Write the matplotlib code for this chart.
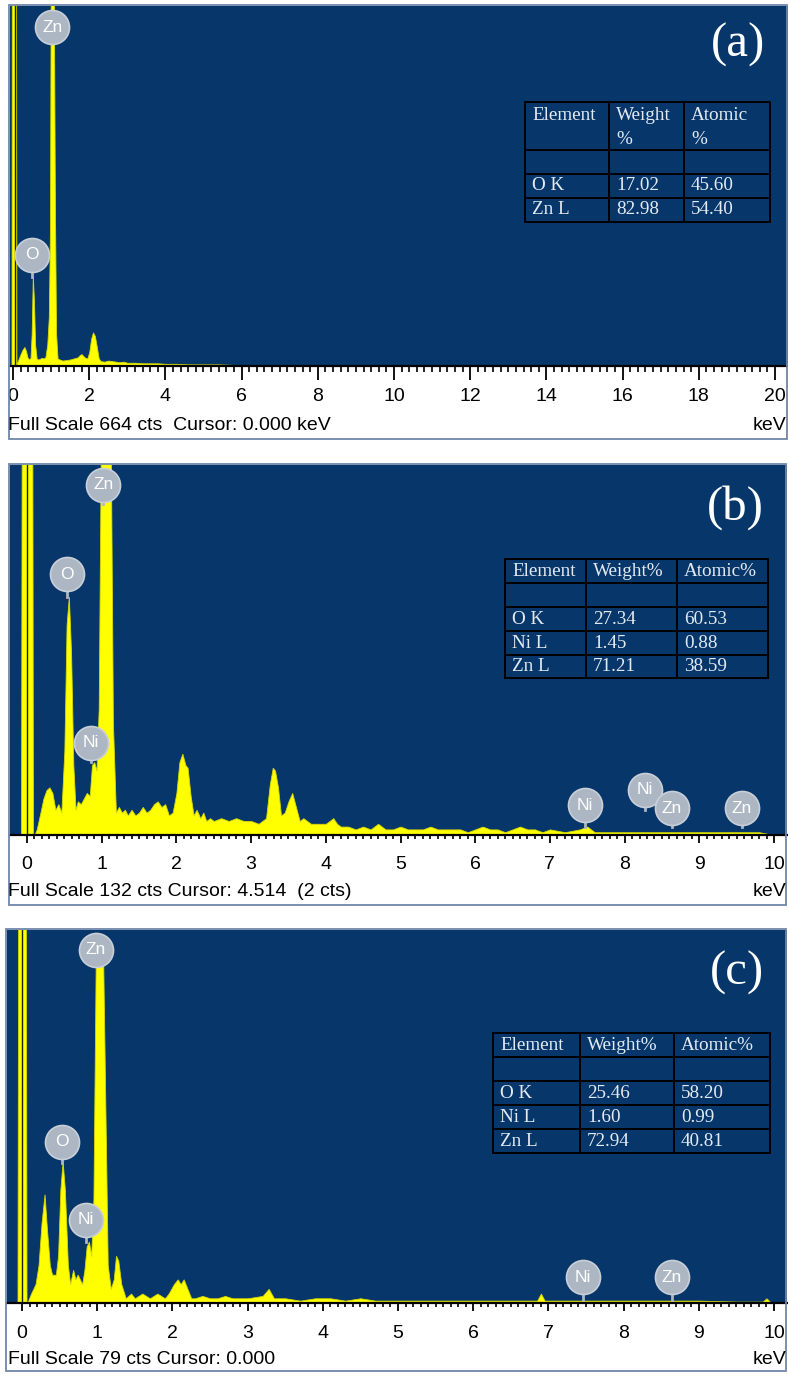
import numpy as np
import matplotlib as mpl
mpl.use('Agg')
from matplotlib import pyplot as plt
from matplotlib.patches import Rectangle

plt.rcParams['font.family'] = ['Liberation Sans', 'DejaVu Sans']

# ---------------- spectra (keV, counts) ----------------
a_kev = [-0.04, -0.03, 0.08, 0.09, 0.12, 0.16, 0.2, 0.25, 0.3, 0.34, 0.38, 0.42, 0.46, 0.49,
         0.52, 0.55, 0.58, 0.62, 0.66, 0.7, 0.75, 0.8, 0.85, 0.9, 0.94, 0.97, 0.99, 1.02,
         1.07, 1.1, 1.13, 1.17, 1.22, 1.3, 1.4, 1.5, 1.6, 1.7, 1.75, 1.8, 1.85, 1.9, 1.95,
         2.0, 2.05, 2.1, 2.15, 2.2, 2.25, 2.3, 2.4, 2.5, 2.6, 2.7, 2.8, 2.9, 3.0, 3.2, 3.4,
         3.6, 3.8, 4.0, 4.3, 4.6, 5.0, 5.4, 5.8, 6.2, 6.6, 7.0, 7.4, 7.8, 8.2, 8.4, 8.45]
a_cts = [0, 800, 800, 0, 8, 15, 22, 30, 35, 28, 16, 12, 15, 60,
         166, 120, 40, 14, 12, 13, 15, 14, 16, 40, 90, 250, 700, 700,
         700, 300, 60, 14, 12, 10, 11, 12, 14, 16, 20, 22, 18, 15, 14,
         25, 50, 62, 55, 35, 14, 9, 8, 10, 9, 8, 7, 8, 6, 6, 5,
         5, 5, 4, 4, 3, 3, 3, 2, 2, 2, 2, 1, 1, 1, 1, 0]

b_kev = [-0.08, -0.07, 0.07, 0.08, 0.1, 0.13, 0.18, 0.22, 0.26, 0.3, 0.34, 0.38, 0.42, 0.46,
         0.5, 0.53, 0.56, 0.59, 0.62, 0.65, 0.68, 0.72, 0.76, 0.8, 0.84, 0.87, 0.9, 0.93,
         0.96, 0.99, 1.12, 1.15, 1.19, 1.23, 1.27, 1.31, 1.35, 1.4, 1.45, 1.5, 1.55, 1.6,
         1.65, 1.7, 1.75, 1.8, 1.85, 1.9, 1.95, 2.0, 2.04, 2.08, 2.12, 2.15, 2.19, 2.23,
         2.27, 2.32, 2.36, 2.4, 2.45, 2.5, 2.6, 2.7, 2.8, 2.9, 3.0, 3.1, 3.2, 3.25, 3.29,
         3.32, 3.36, 3.4, 3.45, 3.5, 3.55, 3.6, 3.65, 3.7, 3.8, 3.9, 4.0, 4.1, 4.15, 4.2,
         4.3, 4.4, 4.5, 4.6, 4.7, 4.75, 4.8, 4.9, 5.0, 5.1, 5.2, 5.3, 5.4, 5.5, 5.6, 5.7,
         5.8, 5.9, 6.0, 6.1, 6.2, 6.3, 6.4, 6.5, 6.6, 6.7, 6.8, 6.9, 7.0, 7.2, 7.4, 7.5,
         7.6, 7.8, 8.0, 8.2, 8.4, 8.6, 8.8, 9.0, 9.2, 9.4, 9.6, 9.8, 10.0]
b_cts = [0, 160, 160, 0, 0, 2, 8, 13, 16, 17, 15, 9, 11, 8,
         30, 75, 85, 65, 25, 9, 12, 11, 13, 15, 14, 25, 26, 23,
         45, 145, 145, 40, 8, 10, 8, 9, 7, 9, 7, 8, 10, 8,
         9, 11, 12, 10, 11, 7, 8, 15, 26, 29, 25, 24, 14, 7,
         9, 6, 8, 5, 6, 5, 6, 5, 6, 5, 5, 4, 6, 18, 24,
         23, 17, 7, 8, 12, 15, 10, 5, 6, 4, 4, 4, 6, 4, 3,
         3, 2, 3, 2, 4, 3, 2, 2, 3, 2, 2, 2, 3, 2, 2, 2,
         2, 1, 2, 3, 2, 2, 1, 2, 3, 2, 2, 1, 2, 1, 2, 3,
         1, 1, 1, 1, 1, 1, 1, 1, 1, 1, 1, 1, 0]

c_kev = [-0.06, -0.05, 0.05, 0.06, 0.07, 0.12, 0.18, 0.22, 0.26, 0.3, 0.33, 0.37, 0.4, 0.45,
         0.48, 0.51, 0.54, 0.57, 0.61, 0.64, 0.68, 0.71, 0.74, 0.77, 0.8, 0.83, 0.86, 0.89,
         0.92, 0.95, 0.98, 1.08, 1.11, 1.14, 1.18, 1.22, 1.25, 1.28, 1.32, 1.38, 1.45, 1.5,
         1.6, 1.7, 1.8, 1.9, 1.95, 2.02, 2.07, 2.11, 2.15, 2.2, 2.25, 2.3, 2.4, 2.5, 2.6,
         2.7, 2.8, 3.0, 3.2, 3.28, 3.35, 3.5, 3.7, 3.9, 4.1, 4.3, 4.5, 4.7, 5.0, 5.5, 6.0,
         6.5, 6.85, 6.9, 6.95, 7.5, 8.0, 8.5, 9.0, 9.5, 9.85, 9.9, 9.95, 10.0]
c_cts = [0, 95, 95, 0, 0, 2, 4, 8, 17, 23, 16, 8, 6, 6,
         10, 24, 30, 24, 8, 4, 7, 5, 6, 5, 4, 7, 12, 13,
         10, 22, 72, 72, 40, 8, 3, 5, 10, 9, 4, 1, 2, 1,
         2, 1, 2, 1, 2, 4, 5, 4, 5, 3, 1, 1, 1.5, 1, 1,
         1.5, 1, 1, 1.5, 3, 1, 1, 0.5, 1, 1, 0.5, 1, 0.5, 0.5, 0.5, 0.5,
         0.5, 0.5, 2, 0.5, 0.5, 0.5, 0.5, 0.5, 0.3, 0.3, 1, 0.2, 0]

a_full, b_full, c_full = 664, 132, 79

# peak markers: element, keV, badge centre (cts), end of stem (cts)
a_lab = ['Zn', 'O']
a_lab_kev = [1.03, 0.5]
a_lab_y = [625, 205]
a_lab_tip = [600, 164]

b_lab = ['Zn', 'O', 'Ni', 'Ni', 'Ni', 'Zn', 'Zn']
b_lab_kev = [1.02, 0.54, 0.86, 7.47, 8.27, 8.63, 9.57]
b_lab_y = [125, 93, 33, 10.7, 16.1, 9.6, 9.6]
b_lab_tip = [118, 85, 26, 3, 9, 3, 3]

c_lab = ['Zn', 'O', 'Ni', 'Ni', 'Zn']
c_lab_kev = [0.98, 0.53, 0.85, 7.46, 8.64]
c_lab_y = [74.8, 34.1, 17.6, 5.5, 5.5]
c_lab_tip = [72, 29.6, 12.9, 0.6, 0.6]

# quantification tables
a_elem = ['O K', 'Zn L']
a_weight = ['17.02', '82.98']
a_atomic = ['45.60', '54.40']
b_elem = ['O K', 'Ni L', 'Zn L']
b_weight = ['27.34', '1.45', '71.21']
b_atomic = ['60.53', '0.88', '38.59']
c_elem = ['O K', 'Ni L', 'Zn L']
c_weight = ['25.46', '1.60', '72.94']
c_atomic = ['58.20', '0.99', '40.81']

a_status = 'Full Scale 664 cts  Cursor: 0.000 keV'
b_status = 'Full Scale 132 cts Cursor: 4.514  (2 cts)'
c_status = 'Full Scale 79 cts Cursor: 0.000'

W, H = 788, 1376
BLUE = '#06366a'
YEL = '#ffff00'
BADGE = '#adb6c3'
TXT = '#e4eaf1'

fig = plt.figure(figsize=(W / 100, H / 100), dpi=100)
fig.patch.set_facecolor('white')


def panel(box, x0, ppk, kev, cts, full, xmax, major, minor, tlen, pad,
          labs, lkev, ly, ltip, zp):
    l, t, r, b = box
    ax = fig.add_axes([l / W, 1 - b / H, (r - l) / W, (b - t) / H])
    ax.set_facecolor(BLUE)
    ax.fill_between(kev, 0, cts, color=YEL, lw=0.6, edgecolor='#d8d800', zorder=2)
    ax.plot([zp, zp], [0, full * 1.5], color='#1c1c10', lw=1.0, zorder=3)
    ax.set_xlim((l - x0) / ppk, (r - x0) / ppk)
    ax.set_ylim(0, full)
    for s in ['top', 'left', 'right']:
        ax.spines[s].set_visible(False)
    ax.spines['bottom'].set_color('black')
    ax.spines['bottom'].set_linewidth(1.6)
    ax.set_yticks([])
    ax.set_xticks(np.arange(0, xmax + 0.01, major))
    ax.set_xticklabels([str(int(round(v))) for v in np.arange(0, xmax + 0.01, major)])
    ax.set_xticks(np.arange(0, xmax + 0.01, minor), minor=True)
    ax.tick_params(axis='x', which='major', length=tlen[0], width=1.3, pad=pad,
                   labelsize=14, direction='out')
    ax.tick_params(axis='x', which='minor', length=tlen[1], width=1.2, direction='out')
    for name, xk, yc, yt in zip(labs, lkev, ly, ltip):
        ax.plot([xk, xk], [yt, yc], color=BADGE, lw=2, zorder=4, clip_on=False)
        ax.scatter([xk], [yc], s=600, color=BADGE, edgecolor='#c8cfd8', lw=1.2,
                   zorder=5, clip_on=False)
        ax.text(xk, yc, name, color='white', ha='center', va='center', fontsize=12.5,
                zorder=6, clip_on=False)
    return ax


panel((10, 6, 788, 366), 13, 38.1, a_kev, a_cts, a_full, 20, 2, 0.2, (10, 4.5), 6,
      a_lab, a_lab_kev, a_lab_y, a_lab_tip, 0.04)
panel((10, 465, 787, 835), 27, 74.7, b_kev, b_cts, b_full, 10, 1, 0.1, (6, 3), 9,
      b_lab, b_lab_kev, b_lab_y, b_lab_tip, 0.0)
panel((7, 930, 787, 1303), 22, 75.2, c_kev, c_cts, c_full, 10, 1, 0.1, (6, 3), 10,
      c_lab, c_lab_kev, c_lab_y, c_lab_tip, 0.0)

# overlay in pixel coordinates for frames, tables and captions
ov = fig.add_axes([0, 0, 1, 1])
ov.set_xlim(0, W)
ov.set_ylim(H, 0)
ov.axis('off')
ov.patch.set_alpha(0)

for (l, t, r, b) in [(9, 5, 787, 439), (9, 464, 786, 905), (6, 929, 786, 1371)]:
    ov.add_patch(Rectangle((l, t), r - l, b - t, fill=False, ec='#6f86a8', lw=1.3))

for txt, y in [(a_status, 425), (b_status, 892), (c_status, 1360)]:
    ov.text(8, y, txt, fontsize=14, ha='left', va='center', color='black')
for y in [425, 892, 1360]:
    ov.text(786, y, 'keV', fontsize=14, ha='right', va='center', color='black')

for lab, x, y in [('(a)', 738, 45), ('(b)', 735, 508), ('(c)', 737, 973)]:
    ov.text(x, y, lab, fontsize=35, ha='center', va='center', color='white',
            family='Liberation Serif')


def table(xs, ys, header, elem, weight, atomic, two_line):
    for x in xs:
        ov.plot([x, x], [ys[0], ys[-1]], color='black', lw=1.4)
    for y in ys:
        ov.plot([xs[0], xs[-1]], [y, y], color='black', lw=1.4)
    kw = dict(fontsize=13.8, color=TXT, family='Liberation Serif', ha='left')
    for i, h in enumerate(header):
        if two_line:
            ov.text(xs[i] + 7, ys[0] + 13, h[0], va='center', **kw)
            ov.text(xs[i] + 7, ys[0] + 38, h[1], va='center', **kw)
        else:
            ov.text(xs[i] + 7, (ys[0] + ys[1]) / 2, h, va='center', **kw)
    for j, row in enumerate(zip(elem, weight, atomic)):
        yc = (ys[j + 2] + ys[j + 3]) / 2
        for i, v in enumerate(row):
            ov.text(xs[i] + 7, yc, v, va='center', **kw)


table([525, 609, 684, 770], [102, 150, 174, 198, 222],
      [('Element', ''), ('Weight', '%'), ('Atomic', '%')],
      a_elem, a_weight, a_atomic, True)
table([505, 586, 677, 768], [559, 583, 607, 631, 655, 678],
      ['Element', 'Weight%', 'Atomic%'], b_elem, b_weight, b_atomic, False)
table([493, 580, 674, 770], [1033, 1057, 1081, 1105, 1129, 1153],
      ['Element', 'Weight%', 'Atomic%'], c_elem, c_weight, c_atomic, False)

fig.savefig('out.png', dpi=100, facecolor='white')
